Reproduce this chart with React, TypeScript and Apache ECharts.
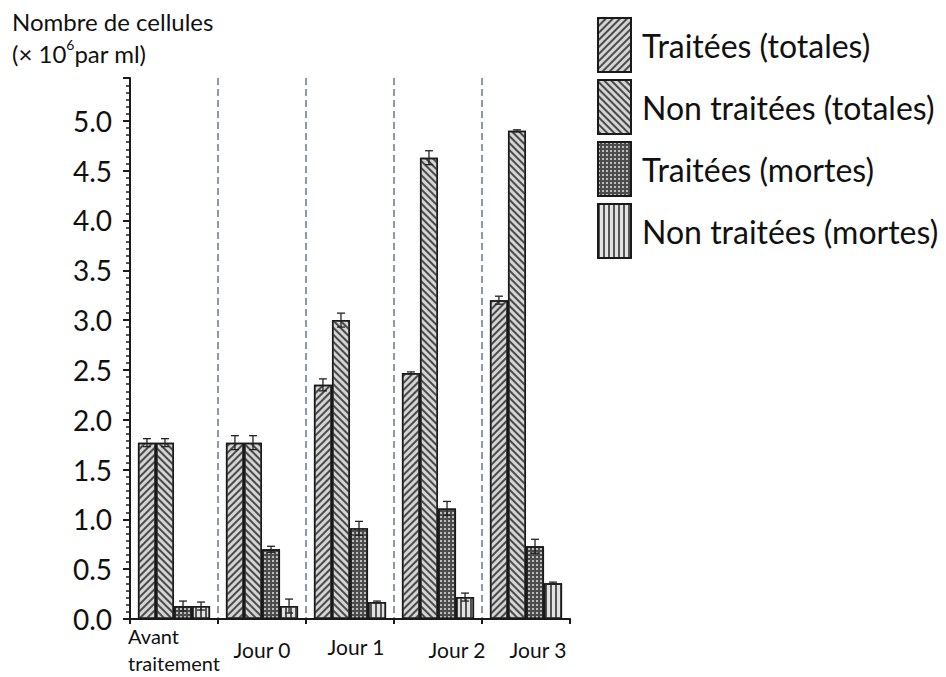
import React, { useEffect, useRef } from "react";
import * as echarts from "echarts";

const categories = ["Avant\ntraitement", "Jour 0", "Jour 1", "Jour 2", "Jour 3"];
const seriesNames = ["Traitées (totales)", "Non traitées (totales)", "Traitées (mortes)", "Non traitées (mortes)"];
const treatedTotal = [1.77, 1.77, 2.35, 2.47, 3.2];
const untreatedTotal = [1.77, 1.77, 3.0, 4.63, 4.9];
const treatedDead = [0.13, 0.7, 0.91, 1.11, 0.73];
const untreatedDead = [0.13, 0.13, 0.17, 0.22, 0.36];
const treatedTotalErr = [0.04, 0.07, 0.06, 0.01, 0.04];
const untreatedTotalErr = [0.04, 0.07, 0.07, 0.07, 0.01];
const treatedDeadErr = [0.05, 0.03, 0.07, 0.07, 0.07];
const untreatedDeadErr = [0.04, 0.07, 0.01, 0.04, 0.01];
const yTicks = [0, 0.5, 1, 1.5, 2, 2.5, 3, 3.5, 4, 4.5, 5];

const FONT = "Lato";
const CAT_GAP = 0.18;

export default function App() {
  const ref = useRef<HTMLDivElement>(null);
  useEffect(() => {
    if (!ref.current) return;
    const chart = echarts.init(ref.current, null, { renderer: "svg" });
    const values = [treatedTotal, untreatedTotal, treatedDead, untreatedDead];
    const errs = [treatedTotalErr, untreatedTotalErr, treatedDeadErr, untreatedDeadErr];
    const styles: any[] = [
      { color: "#d4d4d4", decal: { symbol: "rect", symbolSize: 1, color: "#4a4a4a", dashArrayX: [1, 0], dashArrayY: [1.5, 2.5], rotation: -Math.PI / 4 } },
      { color: "#d4d4d4", decal: { symbol: "rect", symbolSize: 1, color: "#4a4a4a", dashArrayX: [1, 0], dashArrayY: [1.5, 2.5], rotation: Math.PI / 4 } },
      { color: "#4c4c4c", decal: { symbol: "rect", symbolSize: 1, color: "#bdbdbd", dashArrayX: [1.5, 1.5], dashArrayY: [1.5, 1.5], rotation: 0 } },
      { color: "#e2e2e2", decal: { symbol: "rect", symbolSize: 1, color: "#555555", dashArrayX: [1.2, 2.8], dashArrayY: [1, 0], rotation: 0 } },
    ];
    const barSeries = seriesNames.map((name, i) => ({
      name,
      type: "bar",
      data: values[i],
      barGap: "0%",
      barCategoryGap: CAT_GAP * 100 + "%",
      itemStyle: { ...styles[i], borderColor: "#1a1a1a", borderWidth: 1.5 },
    }));
    const errData: number[][] = [];
    values.forEach((arr, si) => arr.forEach((v, ci) => errData.push([ci, si, v, errs[si][ci]])));
    const errorSeries = {
      type: "custom",
      z: 10,
      data: errData,
      encode: { x: 0, y: 2 },
      silent: true,
      renderItem: (params: any, api: any) => {
        const ci = api.value(0);
        const si = api.value(1);
        const v = api.value(2);
        const e = api.value(3);
        const catW = api.size([1, 0])[0];
        const groupW = catW * (1 - CAT_GAP);
        const bw = groupW / 4;
        const c = api.coord([ci, v]);
        const x = c[0] - groupW / 2 + bw * (si + 0.5);
        const yt = api.coord([ci, v + e])[1];
        const yb = api.coord([ci, v - e])[1];
        const hw = 4;
        const st = { stroke: "#222", lineWidth: 1.3 };
        return {
          type: "group",
          children: [
            { type: "line", shape: { x1: x, y1: yt, x2: x, y2: yb }, style: st },
            { type: "line", shape: { x1: x - hw, y1: yt, x2: x + hw, y2: yt }, style: st },
            { type: "line", shape: { x1: x - hw, y1: yb, x2: x + hw, y2: yb }, style: st },
          ],
        };
      },
    };
    chart.setOption({
      animation: false,
      textStyle: { fontFamily: FONT },
      grid: { left: 130, right: 376, top: 78, bottom: 58, containLabel: false },
      legend: {
        orient: "vertical",
        left: 597,
        top: 17,
        padding: 0,
        icon: "rect",
        itemWidth: 33,
        itemHeight: 54,
        itemGap: 6,
        data: seriesNames,
        textStyle: { fontFamily: FONT, fontSize: 32, color: "#111", padding: [0, 0, 6, 6] },
        selectedMode: false,
      },
      graphic: [
        { type: "text", left: 12, top: 9, style: { text: "Nombre de cellules", font: `24px ${FONT}`, fill: "#111" } },
        {
          type: "text",
          left: 12,
          top: 37,
          style: {
            text: "{n|(× 10}{s|6}{n|par ml)}",
            fill: "#111",
            rich: {
              n: { fontFamily: FONT, fontSize: 24, fill: "#111", verticalAlign: "bottom", lineHeight: 28 },
              s: { fontFamily: FONT, fontSize: 14, fill: "#111", verticalAlign: "top", lineHeight: 28, padding: [0, 0, 10, 0] },
            },
          },
        },
      ],
      xAxis: {
        type: "category",
        data: categories,
        axisLine: { lineStyle: { color: "#1a1a1a", width: 2 } },
        axisTick: { show: true, interval: 0, length: 5, lineStyle: { color: "#1a1a1a", width: 2 } },
        splitLine: {
          show: true,
          interval: 0,
          showMinLine: false,
          showMaxLine: false,
          lineStyle: { color: "#8a9aac", width: 2, type: [7, 4] },
        },
        axisLabel: {
          interval: 0,
          fontFamily: FONT,
          fontSize: 21,
          color: "#111",
          margin: 30,
          verticalAlign: "middle",
          lineHeight: 27,
          formatter: (v: string, i: number) => {
            if (i === 0) return "{l|Avant}\n{l|traitement}";
            if (i === 2) return "{j1|" + v + "}";
            if (i === 3) return "{j2|" + v + "}";
            if (i === 4) return "{j3|" + v + "}";
            return v;
          },
          rich: {
            l: { align: "left", fontFamily: FONT, fontSize: 20, color: "#111", lineHeight: 27 },
            j1: { fontFamily: FONT, fontSize: 21, color: "#111", padding: [0, 0, 6, 12] },
            j2: { fontFamily: FONT, fontSize: 21, color: "#111", padding: [0, 0, 0, 38] },
            j3: { fontFamily: FONT, fontSize: 21, color: "#111", padding: [0, 0, 0, 24] },
          },
        },
      },
      yAxis: {
        type: "value",
        min: 0,
        max: 5.43,
        interval: 0.5,
        axisLine: { show: true, lineStyle: { color: "#1a1a1a", width: 2 } },
        axisTick: { show: true, length: 7, lineStyle: { color: "#1a1a1a", width: 2 } },
        minorTick: { show: true, splitNumber: 7, length: 4, lineStyle: { color: "#1a1a1a", width: 1.5 } },
        splitLine: { show: false },
        axisLabel: {
          fontFamily: FONT,
          fontSize: 28,
          color: "#111",
          margin: 18,
          showMaxLabel: false,
          formatter: (v: number) => (yTicks.indexOf(v) >= 0 ? v.toFixed(1) : ""),
        },
      },
      series: [...barSeries, errorSeries],
    });
    return () => chart.dispose();
  }, []);
  return <div ref={ref} style={{ position: "absolute", left: 0, top: 0, width: 946, height: 677 }} />;
}
